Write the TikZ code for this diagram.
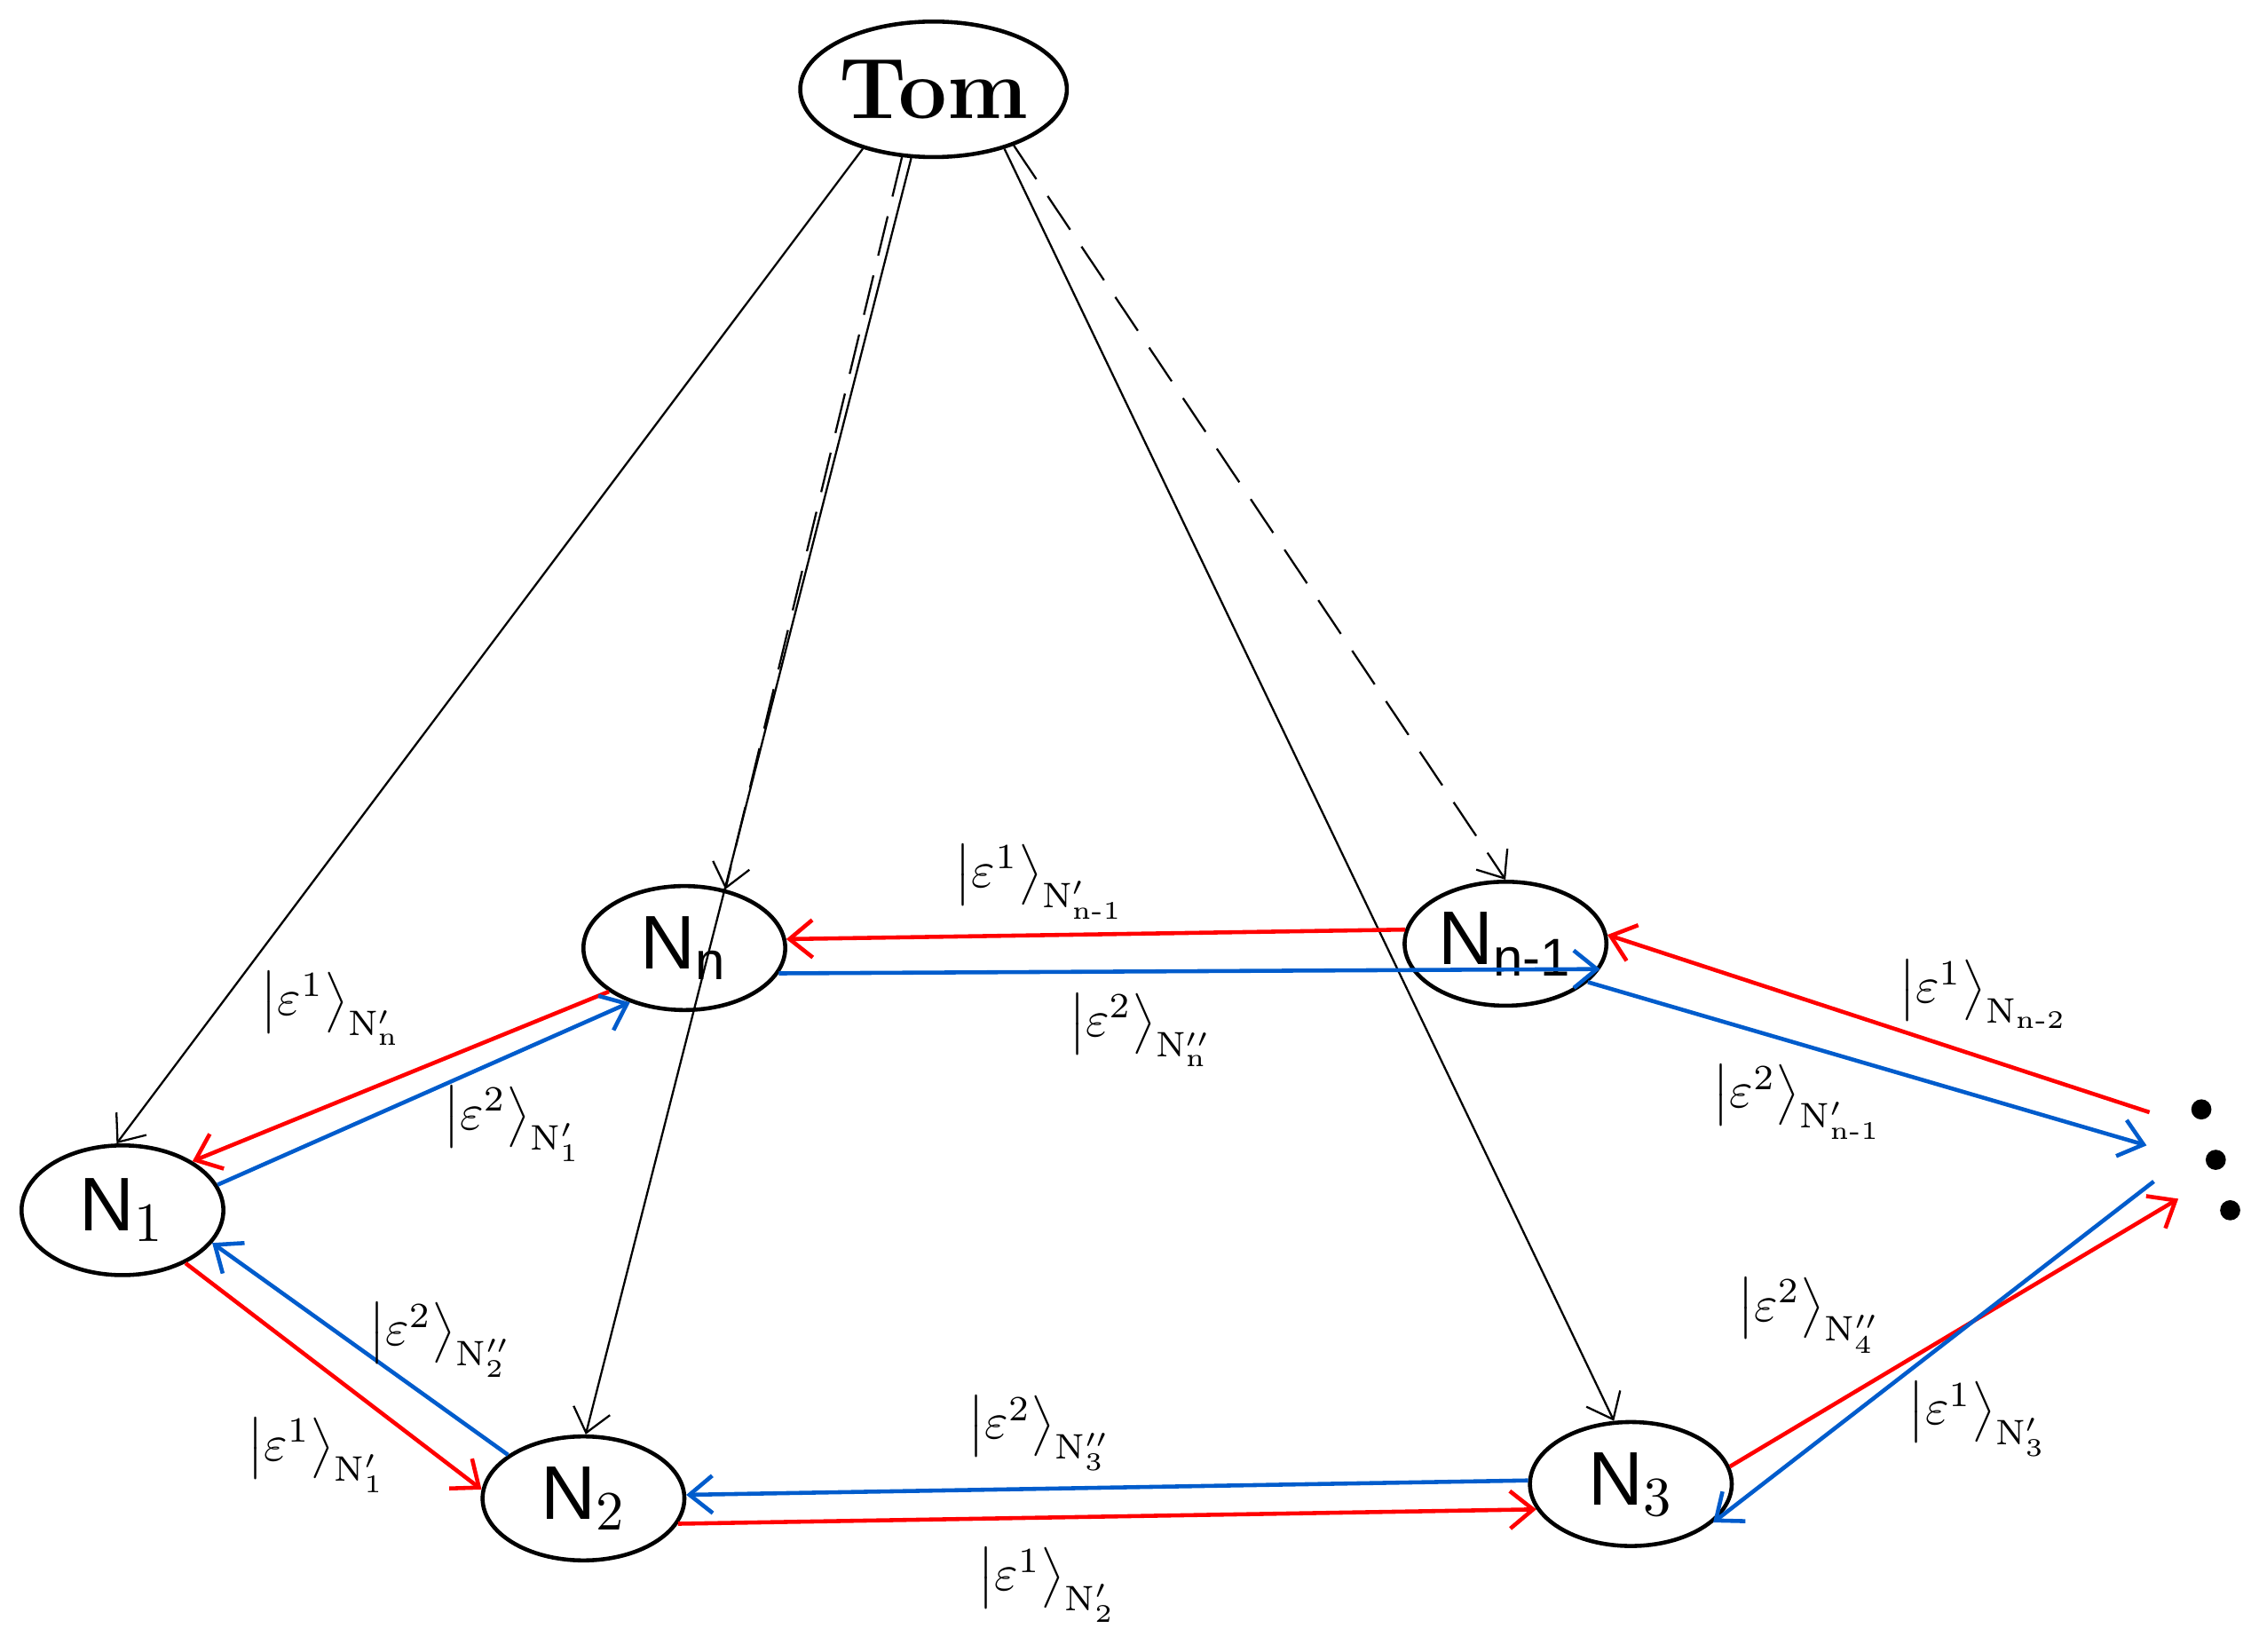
\documentclass[tikz,border=0pt]{standalone}
\usepackage{amsmath}
\usepackage{amssymb}
\usepackage{fontspec}
\usetikzlibrary{arrows.meta,shapes,calc}
\newfontfamily\nodefont{Liberation Sans}
\newcommand{\epsket}[2]{$\left|\varepsilon^{#1}\right\rangle_{\mathrm{#2}}$}

\begin{document}
\begin{tikzpicture}[x=0.01cm,y=-0.01cm]
            \tikzset{vertex/.style = {draw, ellipse, thick, minimum width=1.4cm, minimum height=0.86cm, inner sep=0pt, font=\nodefont\fontsize{15}{15}\selectfont}}
            \tikzset{edge/.style = {-{Straight Barb[length=1.6mm,width=2.6mm]}, thick}}
            \tikzset{red edge/.style = {edge, red}}
            \tikzset{blue edge/.style = {edge, blue!55!cyan!80!black}}
            \tikzset{lbl/.style = {font=\normalsize}}
            \useasboundingbox (0,0) rectangle (1568,1146);

            % vertices
            \node[vertex, minimum width=1.46cm, minimum height=0.94cm, font=\bfseries\fontsize{17}{17}\selectfont] (tom) at (648,62) {Tom};
            \node[vertex] (Nn) at (475,658) {N$_\text{n}$};
            \node[vertex] (Nm) at (1045,655) {N$_\text{n-1}$};
            \node[vertex, minimum height=0.9cm] (N1) at (85,840) {N$_1$};
            \node[vertex] (N2) at (405,1040) {N$_2$};
            \node[vertex] (N3) at (1132,1030) {N$_3$};
            \foreach \p/\q in {d1/{1528,770}, d2/{1538,805}, d3/{1548,840}}
            {
              \fill (\q) circle (7);
              \coordinate (\p) at (\q);
            }
            \coordinate (dA) at (1492,772);
            \coordinate (dB) at (1490,795);
            \coordinate (dC) at (1495,820);
            \coordinate (dD) at (1512,832);

            % edges from Tom
            \draw[edge, thin] (tom.220) to (N1.95);
            \draw[edge, thin] (tom.252) to (N2.88);
            \draw[edge, thin] (tom.-40) to (N3.105);
            \draw[edge, thin, dashed, dash pattern=on 8pt off 4pt] (tom.245) to (Nn.55);
            \draw[edge, thin, dashed, dash pattern=on 8pt off 4pt] (tom.-35) to (Nm.90);

            % ring
            \draw[red edge] (Nm.172) to (Nn.5);
            \draw[blue edge] (Nn.-15) to (Nm.-15);
            \draw[red edge] (Nn.210) to (N1.35);
            \draw[blue edge] (N1.15) to (Nn.225);
            \draw[red edge] (N1.-40) to (N2.175);
            \draw[blue edge] (N2.150) to (N1.-20);
            \draw[blue edge] (N3.178) to (N2.2);
            \draw[red edge] (N2.-15) to (N3.195);
            \draw[red edge] (N3.10) to (dD);
            \draw[blue edge] (dC) to (N3.-25);
            \draw[red edge] (dA) to (Nm.5);
            \draw[blue edge] (Nm.-25) to (dB);

            % labels
            \node[lbl] (l1) at (722,612) {\epsket{1}{N'_{n\text{-}1}}};
            \node[lbl] (l2) at (792,715) {\epsket{2}{N''_n}};
            \node[lbl] (l3) at (230,700) {\epsket{1}{N'_n}};
            \node[lbl] (l4) at (356,780) {\epsket{2}{N'_1}};
            \node[lbl] (l5) at (306,930) {\epsket{2}{N''_2}};
            \node[lbl] (l6) at (220,1010) {\epsket{1}{N'_1}};
            \node[lbl] (l7) at (722,995) {\epsket{2}{N''_3}};
            \node[lbl] (l8) at (727,1100) {\epsket{1}{N'_2}};
            \node[lbl] (l9) at (1377,690) {\epsket{1}{N_{n\text{-}2}}};
            \node[lbl] (l10) at (1248,765) {\epsket{2}{N'_{n\text{-}1}}};
            \node[lbl] (l11) at (1256,913) {\epsket{2}{N''_4}};
            \node[lbl] (l12) at (1373,985) {\epsket{1}{N'_3}};
\end{tikzpicture}
\end{document}
